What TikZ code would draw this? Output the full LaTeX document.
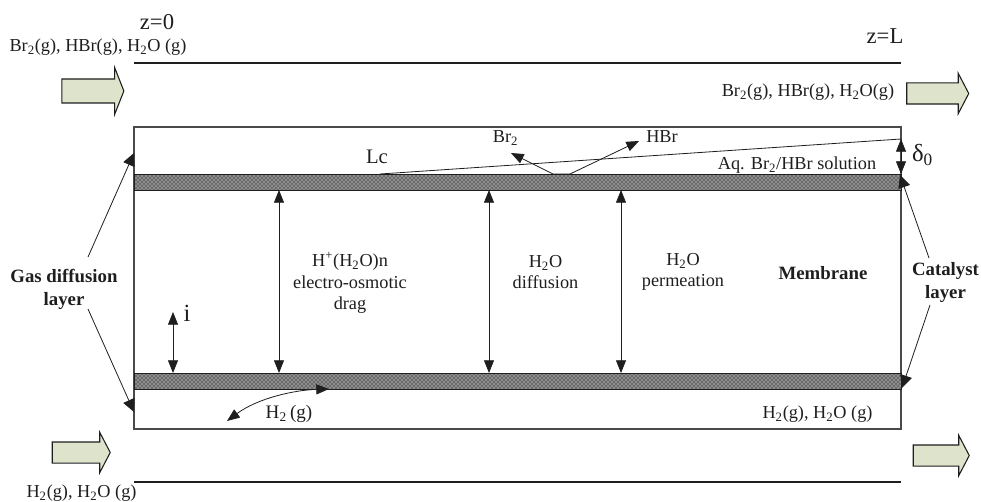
\documentclass[tikz,border=0pt]{standalone}
\usepackage{fontspec}
\setmainfont{Liberation Serif}
\usetikzlibrary{arrows.meta, shapes.arrows, patterns}
\definecolor{inkc}{HTML}{1E1E1E}
\definecolor{edgec}{HTML}{4A4A4A}
\definecolor{flowc}{HTML}{DEE3CC}
\tikzset{cell_t/.style={draw=edgec, line width=1pt, inner sep=0pt, minimum width=575.25pt, minimum height=226.5pt},
band/.style={draw=inkc, line width=0.6pt, inner sep=0pt, minimum width=575.25pt, minimum height=12pt, preaction={fill=black!58}, pattern=crosshatch dots, pattern color=white},
block_t/.style={single arrow, draw=inkc, line width=0.8pt, fill=flowc, inner xsep=0pt, inner ysep=8.6pt, single arrow head extend=8.6pt, single arrow tip angle=137, minimum height=46.5pt},
block_s/.style={block_t, inner ysep=7.5pt, single arrow head extend=7.2pt, single arrow tip angle=125},
wall/.style={draw=inkc, line width=0.8pt},
flow/.style={-{Triangle[length=9.5pt, width=9pt]}, inkc, line width=0.6pt},
both_t/.style={{Triangle[length=9.5pt, width=7.5pt]}-{Triangle[length=9.5pt, width=7.5pt]}, inkc, line width=0.6pt},
txt/.style={inner sep=0pt, text=inkc, font=\fontsize{13.7}{16}\selectfont, align=center},
big/.style={txt, font=\fontsize{15.5}{17}\selectfont},
huge_t/.style={txt, font=\fontsize{18.5}{20}\selectfont},
heavy/.style={txt, font=\fontsize{14.1}{17}\selectfont\bfseries}}
\begin{document}
\begin{tikzpicture}[x=0.75pt, y=-0.75pt]
  \useasboundingbox (0,0) rectangle (981,502);
  % cell and catalyst bands
  \node[cell_t] (cell) at (517.5,278) {};
  \node[band] (topband) at (517.5,182) {};
  \node[band] (botband) at (517.5,381) {};
  % flow channel walls
  \coordinate (wt1) at (134,63);
  \coordinate (wt2) at (901,63);
  \coordinate (wb1) at (134,482);
  \coordinate (wb2) at (901,482);
  \draw[wall] (wt1) -- (wt2);
  \draw[wall] (wb1) -- (wb2);
  % inlet and outlet
  \node[block_t] (in1) at (90.5,91) {};
  \node[block_s] (out1) at (935,93.5) {};
  \node[block_s, minimum height=43.5pt] (in2) at (78.5,452.5) {};
  \node[block_s, minimum height=42pt] (out2) at (938.5,455.5) {};
  % labels
  \node[txt, font=\fontsize{17}{18}\selectfont] (z0) at (157,22) {z=0};
  \node[txt, font=\fontsize{17}{18}\selectfont] (zL) at (885,36) {z=L};
  \node[txt] (gas1) at (98,47) {Br\textsubscript{2}(g), HBr(g), H\textsubscript{2}O (g)};
  \node[txt] (gas2) at (808,92) {Br\textsubscript{2}(g), HBr(g), H\textsubscript{2}O(g)};
  \node[txt] (gas3) at (81.5,493) {H\textsubscript{2}(g), H\textsubscript{2}O (g)};
  \node[txt] (gas4) at (817.5,414) {H\textsubscript{2}(g), H\textsubscript{2}O (g)};
  \node[txt, font=\fontsize{14.3}{16}\selectfont] (h2g) at (289,414) {H\textsubscript{\normalsize 2}\,(g)};
  \node[big] (lc) at (377,157) {Lc};
  \node[txt] (br2) at (505.5,138) {Br\textsubscript{2}};
  \node[txt] (hbr) at (662,137) {HBr};
  \node[txt] (aq) at (797,165) {Aq. Br\textsubscript{2}/HBr solution};
  \node[huge_t] (delta) at (922.5,155) {δ\textsubscript{0}};
  \node[huge_t] (icur) at (187,313) {i};
  \node[txt] (drag) at (350,283) {H\textsuperscript{+}(H\textsubscript{2}O)n\\ electro-osmotic\\ drag};
  \node[txt] (dif) at (545.5,272) {H\textsubscript{2}O\\ diffusion};
  \node[txt] (perm) at (683,272) {H\textsubscript{2}O\\ permeation};
  \node[heavy] (mem) at (823,273) {Membrane};
  \node[heavy] (gdl) at (64,289.5) {Gas diffusion\\ layer};
  \node[heavy] (cat) at (945.5,282.5) {Catalyst\\ layer};
  % ends of the arrows
  \coordinate (a1) at (173,312);
  \coordinate (a2) at (173,373);
  \coordinate (b1) at (279,190);
  \coordinate (b2) at (279,373);
  \coordinate (c1) at (489,190);
  \coordinate (c2) at (489,373);
  \coordinate (d1) at (621,190);
  \coordinate (d2) at (621,373);
  \coordinate (e1) at (901,139);
  \coordinate (e2) at (901,174);
  \coordinate (f1) at (380,174);
  \coordinate (g1) at (134,153);
  \coordinate (g2) at (134,412);
  \coordinate (s1) at (88,257);
  \coordinate (s2) at (88,309);
  \coordinate (s3) at (929,258);
  \coordinate (s4) at (930,305);
  \coordinate (k1) at (900,175);
  \coordinate (k2) at (902,388);
  \coordinate (m1) at (511,153);
  \coordinate (m2) at (553,174);
  \coordinate (m3) at (570,174);
  \coordinate (m4) at (639,141);
  \coordinate (n1) at (227,421);
  \coordinate (n2) at (329,389);
  \draw[both_t] (a1) -- (a2);
  \draw[both_t] (b1) -- (b2);
  \draw[both_t] (c1) -- (c2);
  \draw[both_t] (d1) -- (d2);
  \draw[both_t] (e1) -- (e2);
  \draw[inkc, line width=0.6pt] (f1) -- (e1);
  \draw[flow] (s1) -- (g1);
  \draw[flow] (s2) -- (g2);
  \draw[flow] (s3) -- (k1);
  \draw[flow] (s4) -- (k2);
  \draw[both_t] (m1) -- (m2) -- (m3) -- (m4);
  \draw[both_t] (n1) .. controls (258,398) and (295,390) .. (n2);
\end{tikzpicture}
\end{document}
